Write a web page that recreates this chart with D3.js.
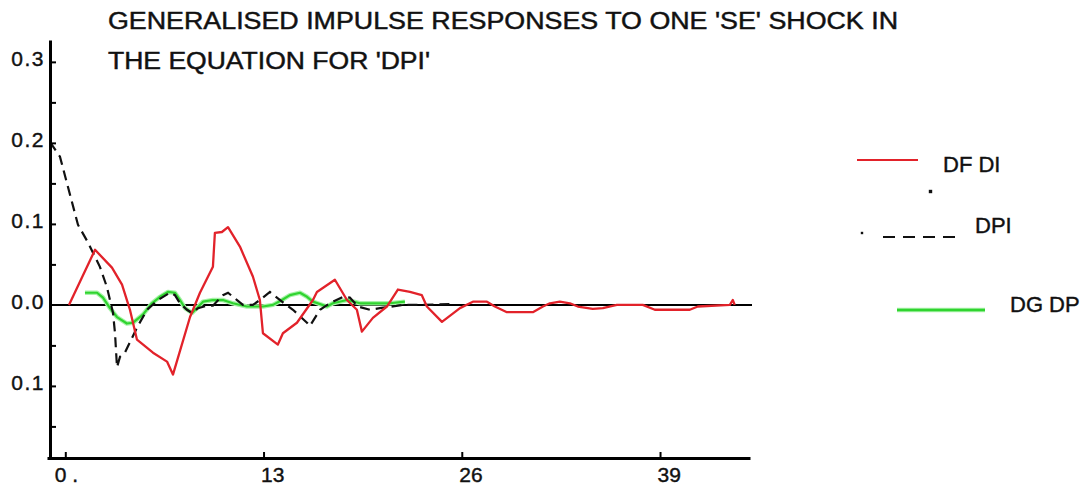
<!DOCTYPE html>
<html>
<head>
<meta charset="utf-8">
<script src="https://cdn.jsdelivr.net/npm/d3@7"></script>
<style>
  body { margin: 0; background: #fff; }
  svg { display: block; font-family: 'Liberation Sans', Arial, sans-serif; }
  .axis path, .axis line { stroke: #000; }
  .axis text { font-size: 21px; fill: #111; stroke: #111; stroke-width: 0.4px; font-family: 'Liberation Sans', Arial, sans-serif; }
</style>
</head>
<body>
<svg id="chart"></svg>
<script>
// Chart text
const titleLines = ["GENERALISED IMPULSE RESPONSES TO ONE 'SE' SHOCK IN", "THE EQUATION FOR 'DPI'"];
const seriesNames = ['DF DI', 'DPI', 'DG DP'];

// Tick values and their printed labels (the chart prints -0.1 as "0.1")
const xTicks = [0, 13, 26, 39];
const xTickLabels = ['0 .', '13', '26', '39'];
const yTicks = [-0.1, 0, 0.1, 0.2, 0.3];
const yTickLabels = ['0.1', '0.0', '0.1', '0.2', '0.3'];
const yMinorTicks = [-0.15, -0.1, -0.05, 0.05, 0.1, 0.15, 0.2, 0.25, 0.3];

// DF DI response (horizon, value)
const dfdiH = [0.24, 1.95, 3.06, 3.72, 4.04, 4.24, 4.70, 5.75, 6.67, 7.06, 8.18, 8.83, 9.68, 9.81, 10.27, 10.67,
  11.45, 12.30, 12.76, 12.96, 13.94, 14.27, 15.19, 16.24, 16.50, 17.68, 18.47, 19.12, 19.45, 20.17, 21.09,
  21.81, 22.60, 23.38, 23.71, 24.70, 25.88, 26.73, 27.65, 28.17, 28.96, 30.66, 31.32, 31.78, 32.43, 33.09,
  33.61, 34.59, 35.25, 36.17, 37.87, 38.66, 40.95, 41.48, 43.58, 43.77, 43.90];
const dfdiV = [0.000, 0.068, 0.046, 0.025, 0.006, -0.006, -0.043, -0.059, -0.070, -0.086, -0.015, 0.015, 0.047, 0.089, 0.090, 0.096,
  0.072, 0.035, 0.006, -0.035, -0.049, -0.035, -0.022, 0.006, 0.016, 0.031, 0.006, -0.006, -0.033, -0.016, -0.002,
  0.019, 0.016, 0.012, -0.002, -0.021, -0.004, 0.004, 0.004, -0.002, -0.009, -0.009, -0.002, 0.002, 0.004, 0.002,
  -0.002, -0.005, -0.004, 0.000, 0.000, -0.006, -0.006, -0.002, 0.000, 0.006, 0.000];

// DPI response
const dpiH = [-1.00, -0.35, 0.83, 1.49, 2.27, 2.73, 3.13, 3.26, 3.39, 3.59, 3.91, 4.70, 5.36, 6.08, 6.86, 7.19,
  7.52, 7.98, 8.31, 8.70, 9.29, 9.68, 10.34, 10.67, 11.26, 11.65, 12.30, 12.76, 13.42, 14.21, 14.93, 15.85,
  16.04, 16.70, 17.35, 18.21, 18.66, 19.19, 19.98, 20.63, 21.48, 22.14, 23.45, 25.22];
const dpiV = [0.201, 0.183, 0.099, 0.077, 0.047, 0.022, -0.010, -0.035, -0.077, -0.064, -0.059, -0.028, -0.006, 0.006, 0.015, 0.012,
  0.002, -0.006, -0.010, -0.004, -0.001, -0.001, 0.012, 0.015, 0.006, 0.000, 0.000, 0.006, 0.016, 0.004, -0.006, -0.022,
  -0.026, -0.006, 0.002, 0.010, 0.009, -0.002, -0.006, -0.004, -0.002, 0.000, 0.000, 0.001];

// DG DP response
const dgdpH = [1.29, 2.08, 2.47, 2.93, 3.39, 4.04, 4.44, 5.09, 5.68, 6.21, 6.73, 7.19, 7.52, 7.85, 8.31, 8.63,
  9.03, 9.68, 10.34, 10.99, 11.91, 12.96, 13.62, 14.21, 14.73, 15.39, 15.85, 16.24, 17.16, 17.55, 18.47,
  19.32, 20.17, 21.29, 22.27];
const dgdpV = [0.015, 0.015, 0.009, -0.004, -0.015, -0.023, -0.022, -0.012, 0.002, 0.010, 0.016, 0.015, 0.006, -0.004, -0.010, -0.004,
  0.004, 0.006, 0.006, 0.002, -0.002, -0.002, 0.000, 0.006, 0.012, 0.015, 0.010, 0.004, -0.002, 0.002, 0.006,
  0.002, 0.002, 0.002, 0.004];

const width = 1092, height = 490;
const svg = d3.select('#chart').attr('width', width).attr('height', height);

// Scales
const x = d3.scaleLinear().domain([-1.2, 44.9]).range([47, 750]);
const y = d3.scaleLinear().domain([-0.189, 0.327]).range([458, 40]);

// Title
svg.selectAll('.title')
  .data(titleLines)
  .enter().append('text')
  .attr('class', 'title')
  .attr('x', 108)
  .attr('y', (d, i) => 29 + i * 40)
  .attr('font-size', 23)
  .attr('fill', '#111')
  .attr('stroke', '#111')
  .attr('stroke-width', 0.45)
  .attr('textLength', (d, i) => i === 0 ? 790 : 322)
  .attr('lengthAdjust', 'spacingAndGlyphs')
  .text(d => d);

// Zero line
svg.append('line')
  .attr('x1', x.range()[0] + 3).attr('x2', x.range()[1] + 2)
  .attr('y1', y(0)).attr('y2', y(0))
  .attr('stroke', '#000').attr('stroke-width', 2);

// Series lines
const line = d3.line().x(d => x(d[0])).y(d => y(d[1]));
const zipSeries = (h, v) => h.map((d, i) => [d, v[i]]);

svg.append('path')
  .datum(zipSeries(dgdpH, dgdpV))
  .attr('fill', 'none').attr('stroke', '#a8f2a8').attr('stroke-width', 4.5)
  .attr('stroke-linejoin', 'round').attr('d', line);
svg.append('path')
  .datum(zipSeries(dgdpH, dgdpV))
  .attr('fill', 'none').attr('stroke', '#2fd42f').attr('stroke-width', 2.2)
  .attr('stroke-linejoin', 'round').attr('d', line);

svg.append('path')
  .datum(zipSeries(dpiH, dpiV))
  .attr('fill', 'none').attr('stroke', '#111').attr('stroke-width', 2.2)
  .attr('stroke-dasharray', '10,6').attr('d', line);

svg.append('path')
  .datum(zipSeries(dfdiH, dfdiV))
  .attr('fill', 'none').attr('stroke', '#e2222a').attr('stroke-width', 2.3)
  .attr('stroke-linejoin', 'round').attr('d', line);

// Y axis: minor ticks, then labelled ticks
svg.append('g')
  .attr('class', 'axis')
  .attr('transform', 'translate(50,0)')
  .call(d3.axisLeft(y).tickValues(yMinorTicks).tickSize(-6).tickSizeOuter(0).tickFormat(''))
  .call(g => g.select('.domain').attr('stroke-width', 3))
  .call(g => g.selectAll('.tick line').attr('stroke-width', 2));

svg.append('g')
  .attr('class', 'axis')
  .attr('transform', 'translate(50,0)')
  .call(d3.axisLeft(y).tickValues(yTicks).tickSize(0).tickPadding(5)
    .tickFormat((d, i) => yTickLabels[i]))
  .call(g => g.select('.domain').remove())
  .call(g => g.selectAll('.tick text').attr('dy', '0.15em').attr('letter-spacing', 1.5));

// X axis
svg.append('g')
  .attr('class', 'axis')
  .attr('transform', `translate(0,${y.range()[0]})`)
  .call(d3.axisBottom(x).tickValues(xTicks).tickSize(-6).tickSizeOuter(0)
    .tickFormat((d, i) => xTickLabels[i]))
  .call(g => g.select('.domain').attr('stroke-width', 3))
  .call(g => g.selectAll('.tick line').attr('stroke-width', 2))
  .call(g => g.selectAll('.tick text')
    .attr('text-anchor', 'start')
    .attr('x', d => d === 0 ? -11 : -3)
    .attr('y', 24).attr('dy', 0));

// Legend
const legend = svg.append('g').attr('font-size', 22).attr('fill', '#111')
  .attr('stroke', '#111').attr('stroke-width', 0.4);

legend.append('line')
  .attr('x1', 857).attr('x2', 918).attr('y1', 160).attr('y2', 160)
  .attr('stroke', '#e2222a').attr('stroke-width', 2);
legend.append('text').attr('x', 943).attr('y', 172).text(seriesNames[0]);
legend.append('rect').attr('x', 929).attr('y', 190).attr('width', 3).attr('height', 3).attr('fill', '#111');

legend.append('rect').attr('x', 861).attr('y', 232).attr('width', 2).attr('height', 2).attr('fill', '#111');
legend.append('line')
  .attr('x1', 883).attr('x2', 961).attr('y1', 237).attr('y2', 237)
  .attr('stroke', '#111').attr('stroke-width', 2).attr('stroke-dasharray', '12,8');
legend.append('text').attr('x', 975).attr('y', 233).text(seriesNames[1]);

legend.append('line')
  .attr('x1', 897).attr('x2', 985).attr('y1', 310).attr('y2', 310)
  .attr('stroke', '#a8f2a8').attr('stroke-width', 4.5);
legend.append('line')
  .attr('x1', 897).attr('x2', 985).attr('y1', 310).attr('y2', 310)
  .attr('stroke', '#2fd42f').attr('stroke-width', 2.5);
legend.append('text').attr('x', 1010).attr('y', 312).text(seriesNames[2]);
</script>
</body>
</html>
